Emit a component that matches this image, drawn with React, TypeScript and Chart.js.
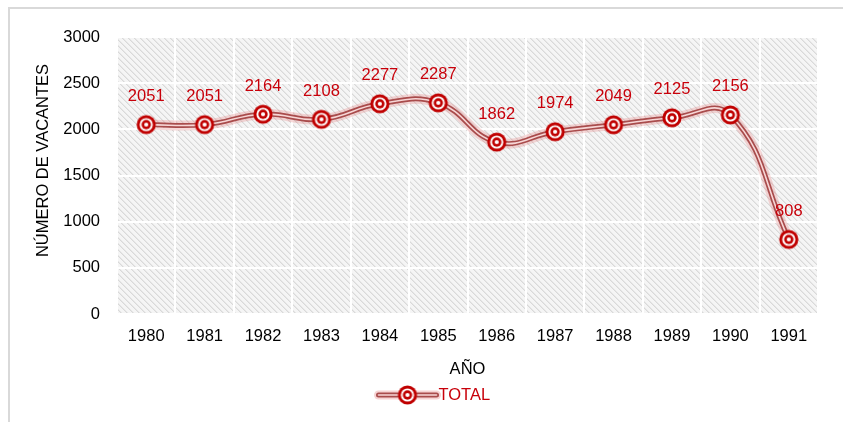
import React, { useEffect, useRef } from "react";
import { Chart, registerables } from "chart.js";

Chart.register(...registerables);

const years = ["1980", "1981", "1982", "1983", "1984", "1985", "1986", "1987", "1988", "1989", "1990", "1991"];
const totals = [2051, 2051, 2164, 2108, 2277, 2287, 1862, 1974, 2049, 2125, 2156, 808];
const yMin = 0;
const yMax = 3000;
const yStep = 500;
const seriesName = "TOTAL";
const xTitle = "AÑO";
const yTitle = "NÚMERO DE VACANTES";

const FONT = "'Liberation Sans', Arial, sans-serif";
const RED = "#c8000a";
const FS = 16.5;

function makeMarker(): HTMLCanvasElement {
  const c = document.createElement("canvas");
  c.width = 22;
  c.height = 22;
  const g = c.getContext("2d")!;
  const circ = (r: number, col: string) => {
    g.beginPath();
    g.arc(11, 11, r, 0, Math.PI * 2);
    g.fillStyle = col;
    g.fill();
  };
  circ(9.6, "#c00000");
  circ(6.6, "#ffffff");
  circ(4.7, "#c00000");
  circ(2.1, "#ffffff");
  return c;
}

function makePattern(ctx: CanvasRenderingContext2D): CanvasPattern | string {
  const c = document.createElement("canvas");
  const n = 6;
  c.width = n;
  c.height = n;
  const g = c.getContext("2d")!;
  g.fillStyle = "#f5f5f5";
  g.fillRect(0, 0, n, n);
  for (let i = 0; i < n; i++) {
    g.fillStyle = "#d9d9d9";
    g.fillRect(i, i, 1, 1);
    g.fillStyle = "#e7e7e7";
    g.fillRect((i + 1) % n, i, 1, 1);
  }
  return ctx.createPattern(c, "repeat") || "#ededed";
}

export default function App() {
  const ref = useRef<HTMLCanvasElement | null>(null);

  useEffect(() => {
    const canvas = ref.current;
    if (!canvas) return;
    const ctx0 = canvas.getContext("2d")!;
    const marker = makeMarker();
    const pattern = makePattern(ctx0);

    const bgPlugin = {
      id: "bgPlugin",
      beforeDraw(chart: any) {
        const ctx = chart.ctx as CanvasRenderingContext2D;
        const { left, top, right, bottom } = chart.chartArea;
        ctx.save();
        ctx.fillStyle = "#ffffff";
        ctx.fillRect(0, 0, chart.width, chart.height);
        ctx.strokeStyle = "#d9d9d9";
        ctx.lineWidth = 2;
        ctx.beginPath();
        ctx.moveTo(9, chart.height + 2);
        ctx.lineTo(9, 8);
        ctx.lineTo(chart.width + 2, 8);
        ctx.stroke();
        ctx.fillStyle = pattern as any;
        ctx.fillRect(left, top, right - left, bottom - top);
        ctx.restore();
      },
    };

    const labelPlugin = {
      id: "labelPlugin",
      afterDatasetsDraw(chart: any) {
        const ctx = chart.ctx as CanvasRenderingContext2D;
        const meta = chart.getDatasetMeta(0);
        ctx.save();
        ctx.font = `${FS}px ${FONT}`;
        ctx.fillStyle = RED;
        ctx.textAlign = "center";
        ctx.textBaseline = "middle";
        meta.data.forEach((pt: any, i: number) => {
          ctx.fillText(String(totals[i]), pt.x, pt.y - 28);
        });
        ctx.restore();
      },
      afterDraw(chart: any) {
        const ctx = chart.ctx as CanvasRenderingContext2D;
        const { top, bottom } = chart.chartArea;
        ctx.save();
        ctx.font = `${FS}px ${FONT}`;
        ctx.fillStyle = "#000000";
        ctx.textAlign = "center";
        ctx.textBaseline = "middle";
        ctx.translate(43, (top + bottom) / 2 - 15);
        ctx.rotate(-Math.PI / 2);
        ctx.fillText(yTitle, 0, 0);
        ctx.restore();

        ctx.save();
        const cx = chart.width / 2 - 14;
        const cy = 395;
        const x0 = cx - 29;
        const x1 = cx + 29;
        ctx.lineCap = "round";
        ctx.strokeStyle = "rgba(230,130,130,0.35)";
        ctx.lineWidth = 9;
        ctx.beginPath();
        ctx.moveTo(x0, cy);
        ctx.lineTo(x1, cy);
        ctx.stroke();
        ctx.strokeStyle = "#a94c4c";
        ctx.lineWidth = 5;
        ctx.beginPath();
        ctx.moveTo(x0, cy);
        ctx.lineTo(x1, cy);
        ctx.stroke();
        ctx.strokeStyle = "#f7d6d6";
        ctx.lineWidth = 1.6;
        ctx.beginPath();
        ctx.moveTo(x0, cy);
        ctx.lineTo(x1, cy);
        ctx.stroke();
        ctx.drawImage(marker, cx - 11, cy - 11);
        ctx.font = `${FS}px ${FONT}`;
        ctx.fillStyle = RED;
        ctx.textAlign = "left";
        ctx.textBaseline = "middle";
        ctx.fillText(seriesName, x1 + 2, cy);
        ctx.restore();
      },
    };

    const tension = 0.45;
    const chart = new Chart(canvas, {
      type: "line",
      data: {
        labels: years,
        datasets: [
          {
            label: seriesName,
            data: totals,
            borderColor: "#f7d6d6",
            borderWidth: 1.6,
            tension,
            pointStyle: marker as any,
            pointRadius: 10,
            pointHoverRadius: 10,
            fill: false,
          },
          {
            label: seriesName + "-main",
            data: totals,
            borderColor: "#a94c4c",
            borderWidth: 5,
            tension,
            pointRadius: 0,
            fill: false,
          },
          {
            label: seriesName + "-glow",
            data: totals,
            borderColor: "rgba(230,130,130,0.3)",
            borderWidth: 10,
            tension,
            pointRadius: 0,
            fill: false,
          },
        ],
      },
      options: {
        animation: false,
        responsive: true,
        maintainAspectRatio: false,
        events: [],
        layout: { padding: { top: 37, right: 25, left: 0, bottom: 0 } },
        plugins: {
          legend: { display: false },
          tooltip: { enabled: false },
        },
        scales: {
          x: {
            offset: true,
            grid: { color: "#ffffff", lineWidth: 2, drawTicks: false, offset: true },
            border: { display: false },
            ticks: { color: "#000000", font: { family: FONT, size: FS }, padding: 13, maxRotation: 0 },
            title: {
              display: true,
              text: xTitle,
              color: "#000000",
              font: { family: FONT, size: FS },
              padding: { top: 0, bottom: 43 },
            },
            afterFit: (s: any) => {
              s.height = 108;
            },
          },
          y: {
            min: yMin,
            max: yMax,
            grid: { color: "#ffffff", lineWidth: 2, drawTicks: false },
            border: { display: false },
            ticks: {
              stepSize: yStep,
              color: "#000000",
              font: { family: FONT, size: FS },
              padding: 17,
              callback: (v: any) => String(v),
            },
            afterFit: (s: any) => {
              s.width = 117;
            },
          },
        },
      },
      plugins: [bgPlugin, labelPlugin],
    });
    return () => chart.destroy();
  }, []);

  return (
    <div style={{ position: "fixed", left: 0, top: 0, width: 843, height: 422 }}>
      <canvas ref={ref} />
    </div>
  );
}
